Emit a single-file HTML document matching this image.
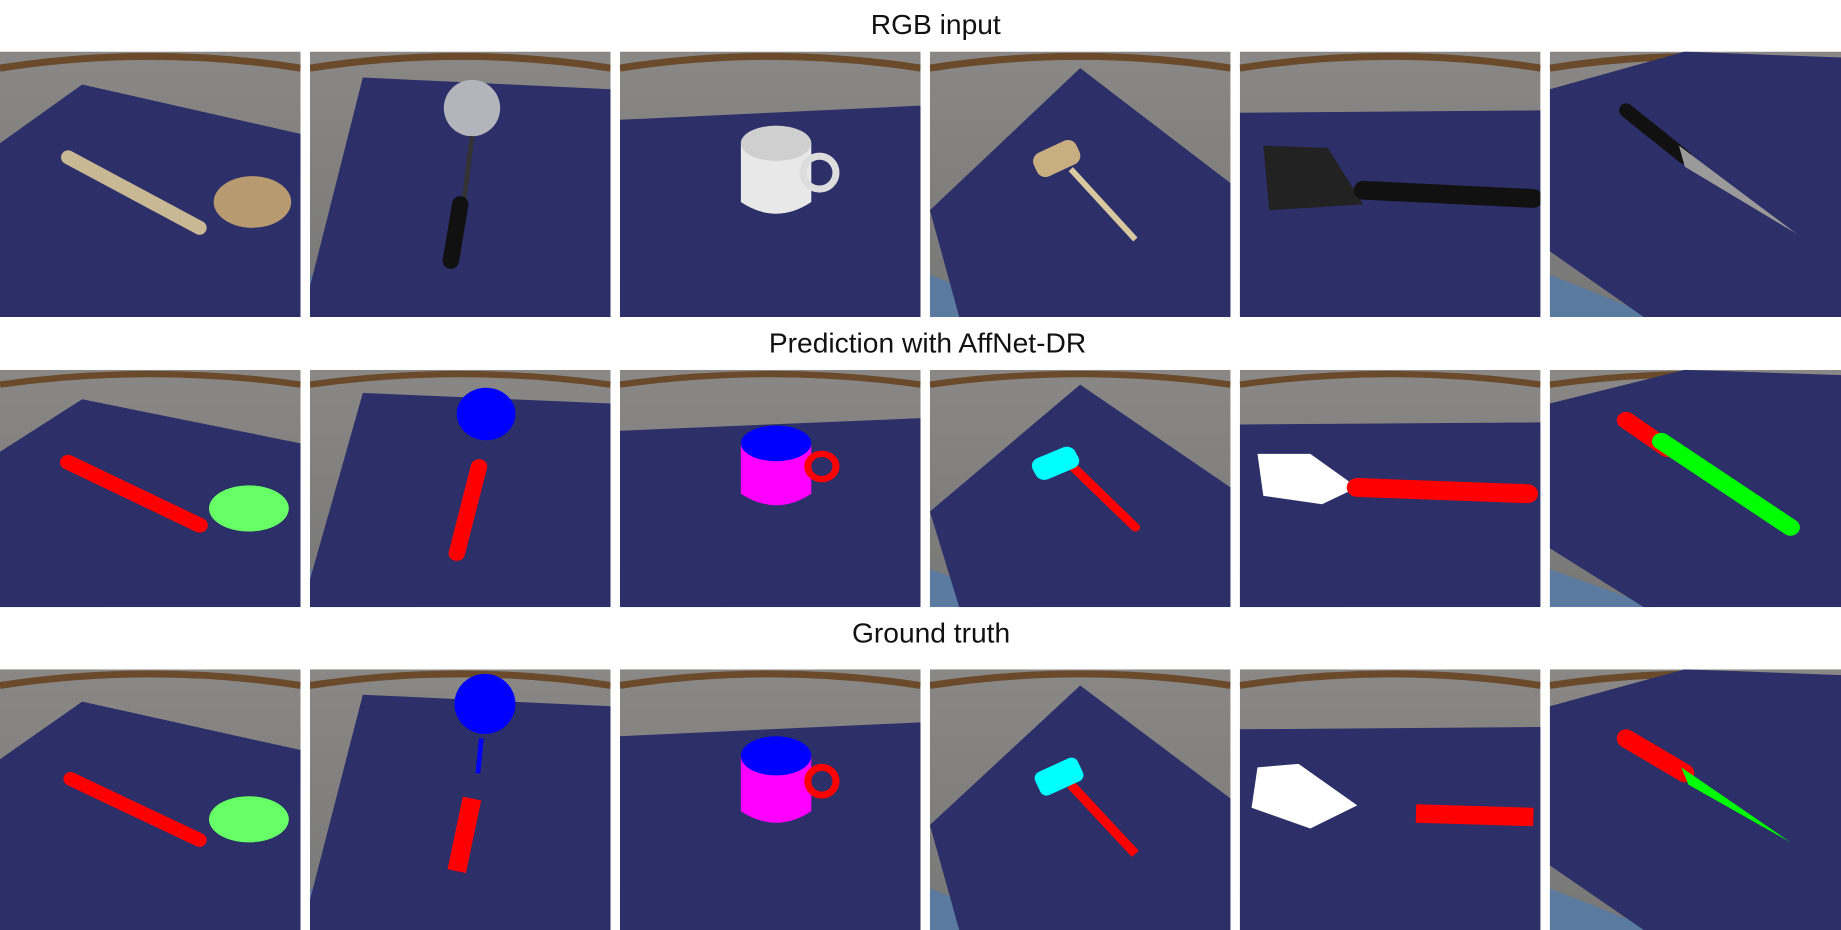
<!DOCTYPE html>
<html><head><meta charset="utf-8"><style>
html,body{margin:0;padding:0;background:#fff;}
svg{display:block}
text{font-family:"Liberation Sans",sans-serif;font-size:24px;fill:#111}
</style></head><body>
<svg width="1841" height="930" viewBox="0 0 1568 792" preserveAspectRatio="none" xmlns="http://www.w3.org/2000/svg">
<defs>
<linearGradient id="bg" x1="0" y1="0" x2="0" y2="1"><stop offset="0" stop-color="#8a8886"/><stop offset="1" stop-color="#777"/></linearGradient>
</defs>
<text x="797" y="29" text-anchor="middle">RGB input</text>
<text x="790" y="300" text-anchor="middle">Prediction with AffNet-DR</text>
<text x="793" y="547" text-anchor="middle">Ground truth</text>
<g id="tiles"></g>
</svg>
<script>
const cols=[0,264,528,792,1056,1320];
const widths=[256,256,256,256,256,248];
const rows=[[44,226],[315,202],[570,222]];
const rowNames=['rgb','pred','gt'];
const mats=[
 "0,78 70,28 256,70 256,226 0,226",
 "45,22 256,32 256,226 0,226 0,200",
 "0,58 256,46 256,226 0,226",
 "0,135 128,14 256,112 256,226 25,226",
 "0,52 256,50 256,226 0,226",
 "0,32 115,0 248,5 248,226 80,226 0,170"
];
// objects per column: [rgbSvg, predSvg, gtSvg]
const objs=[
 ['<path d="M58,90 L170,150" stroke="#c8b894" stroke-width="12" stroke-linecap="round"/><ellipse cx="215" cy="128" rx="33" ry="22" fill="#b89a70"/>',
  '<path d="M58,88 L170,148" stroke="#f00" stroke-width="14" stroke-linecap="round"/><ellipse cx="212" cy="132" rx="34" ry="22" fill="#6f6"/>',
  '<path d="M60,95 L170,148" stroke="#f00" stroke-width="12" stroke-linecap="round"/><ellipse cx="212" cy="130" rx="34" ry="20" fill="#6f6"/>'],
 ['<circle cx="138" cy="48" r="24" fill="#b4b4bc"/><path d="M138,72 L125,178" stroke="#333" stroke-width="4"/><path d="M128,130 L120,178" stroke="#111" stroke-width="14" stroke-linecap="round"/>',
  '<circle cx="150" cy="42" r="25" fill="#00f"/><path d="M144,92 L125,175" stroke="#f00" stroke-width="14" stroke-linecap="round"/>',
  '<circle cx="149" cy="30" r="26" fill="#00f"/><path d="M146,60 L143,90" stroke="#00f" stroke-width="4"/><path d="M138,112 L125,175" stroke="#f00" stroke-width="16"/>'],
 ['<path d="M103,78 L103,128 Q133,148 163,128 L163,78 Z" fill="#e8e8e8"/><ellipse cx="133" cy="78" rx="30" ry="15" fill="#cfcfcf"/><circle cx="170" cy="103" r="14" fill="none" stroke="#ddd" stroke-width="6"/>',
  '<path d="M103,72 L103,118 Q133,140 163,118 L163,72 Z" fill="#f0f"/><ellipse cx="133" cy="70" rx="30" ry="17" fill="#00f"/><circle cx="172" cy="92" r="12" fill="none" stroke="#f00" stroke-width="6"/>',
  '<path d="M103,75 L103,123 Q133,143 163,123 L163,75 Z" fill="#f0f"/><ellipse cx="133" cy="75" rx="30" ry="17" fill="#00f"/><circle cx="172" cy="97" r="12" fill="none" stroke="#f00" stroke-width="6"/>'],
 ['<path d="M120,100 L175,160" stroke="#d8c8a0" stroke-width="5"/><rect x="88" y="80" width="40" height="22" rx="8" fill="#c8ae80" transform="rotate(-25 108 91)"/>',
  '<path d="M115,85 L175,150" stroke="#f00" stroke-width="8" stroke-linecap="round"/><rect x="87" y="78" width="40" height="22" rx="8" fill="#0ff" transform="rotate(-25 107 89)"/>',
  '<path d="M120,100 L175,160" stroke="#f00" stroke-width="8"/><rect x="90" y="82" width="40" height="22" rx="6" fill="#0ff" transform="rotate(-25 110 93)"/>'],
 ['<path d="M20,80 L75,82 L105,130 L25,135 Z" fill="#222"/><path d="M105,118 L250,125" stroke="#111" stroke-width="16" stroke-linecap="round"/>',
  '<path d="M15,80 L60,80 L100,112 L70,128 L20,120 Z" fill="#fff"/><path d="M100,112 L245,118" stroke="#f00" stroke-width="18" stroke-linecap="round"/>',
  '<path d="M15,85 L50,82 L100,118 L60,138 L10,120 Z" fill="#fff"/><path d="M150,125 L250,128" stroke="#f00" stroke-width="16"/>'],
 ['<path d="M65,50 L115,90" stroke="#111" stroke-width="12" stroke-linecap="round"/><path d="M110,80 L210,155 L115,98 Z" fill="#9a9a9a"/>',
  '<path d="M65,48 L100,75" stroke="#f00" stroke-width="16" stroke-linecap="round"/><path d="M95,68 L205,150" stroke="#0f0" stroke-width="16" stroke-linecap="round"/>',
  '<path d="M65,60 L115,90" stroke="#f00" stroke-width="16" stroke-linecap="round"/><path d="M112,85 L205,150 L118,100 Z" fill="#0f0"/>']
];
const g=document.getElementById('tiles');
const NS='http://www.w3.org/2000/svg';
rows.forEach((r,ri)=>{cols.forEach((x,ci)=>{
 const s=document.createElementNS(NS,'svg');
 
 
 s.setAttribute('x',x);s.setAttribute('y',r[0]);
 s.setAttribute('width',widths[ci]);s.setAttribute('height',r[1]);
 s.setAttribute('viewBox','0 0 '+widths[ci]+' 226');
 s.setAttribute('preserveAspectRatio','none');
 s.innerHTML='<rect width="256" height="226" fill="url(#bg)"/>'+
  '<path d="M0,14 Q128,-6 256,14" stroke="#6a4a2a" stroke-width="6" fill="none"/>'+
  '<path d="M0,190 L90,226 L0,226 Z" fill="#5a7aa0"/>'+
  '<polygon points="'+mats[ci]+'" fill="#2c2f68"/>'+objs[ci][ri];
 g.appendChild(s);
});});
</script>
</body></html>
